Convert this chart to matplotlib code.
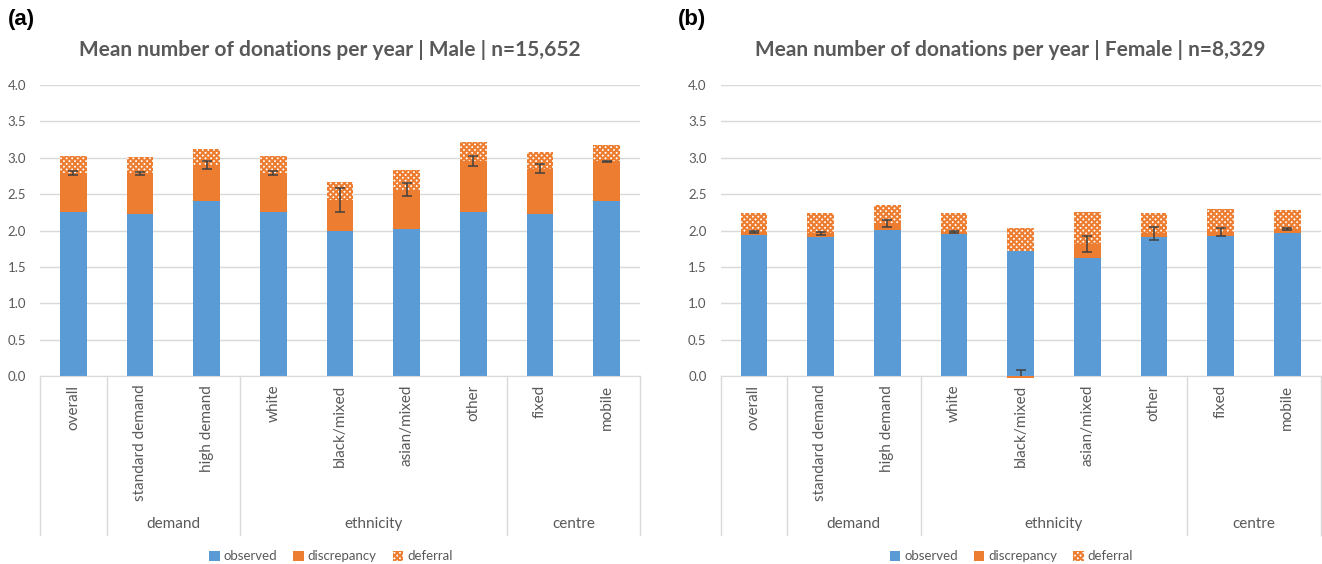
import numpy as np
import matplotlib.pyplot as plt
from matplotlib.patches import Patch

plt.rcParams['font.family'] = ['Lato', 'DejaVu Sans']
plt.rcParams['hatch.linewidth'] = 1.5

categories = ["overall", "standard demand", "high demand", "white", "black/mixed",
              "asian/mixed", "other", "fixed", "mobile"]
group_labels = ["", "demand", "ethnicity", "centre"]
group_sizes = [1, 2, 4, 2]

male_observed = [2.25, 2.23, 2.40, 2.25, 2.00, 2.02, 2.26, 2.23, 2.40]
male_discrepancy = [0.54, 0.555, 0.50, 0.54, 0.42, 0.54, 0.70, 0.62, 0.55]
male_deferral = [0.24, 0.225, 0.22, 0.23, 0.25, 0.27, 0.25, 0.23, 0.23]
male_err = [0.03, 0.02, 0.05, 0.03, 0.17, 0.09, 0.07, 0.06, 0.01]

female_observed = [1.94, 1.915, 2.01, 1.95, 1.72, 1.62, 1.915, 1.925, 1.97]
female_discrepancy = [0.04, 0.045, 0.09, 0.03, -0.03, 0.20, 0.045, 0.055, 0.05]
female_deferral = [0.265, 0.28, 0.25, 0.265, 0.32, 0.44, 0.285, 0.32, 0.26]
female_err = [0.01, 0.02, 0.05, 0.02, 0.11, 0.11, 0.09, 0.06, 0.01]

BLUE = "#5B9BD5"
ORANGE = "#ED7D31"
GREY = "#595959"
W, H = 1322, 564


def draw_panel(ax, observed, discrepancy, deferral, err):
    x = np.arange(len(categories))
    obs = np.array(observed)
    disc = np.array(discrepancy)
    defr = np.array(deferral)
    ax.bar(x, obs, width=0.4, color=BLUE, zorder=2)
    # negative discrepancy is stacked downward from zero, as Excel does
    disc_bottom = np.where(disc >= 0, obs, 0)
    ax.bar(x, disc, width=0.4, bottom=disc_bottom, color=ORANGE, zorder=3, clip_on=False)
    ax.bar(x, defr, width=0.4, bottom=obs + np.maximum(disc, 0), facecolor="white",
           edgecolor=ORANGE, hatch="xxxxxx", linewidth=0, zorder=2)
    err_y = np.where(disc >= 0, obs + disc, disc)
    ax.errorbar(x, err_y, yerr=err, fmt="none", ecolor="#404040", elinewidth=1.1,
                capsize=3.5, capthick=1.1, zorder=4)

    ax.set_xlim(-0.5, len(categories) - 0.5)
    ax.set_ylim(0, 4)
    ax.set_yticks(np.arange(0, 4.01, 0.5))
    ax.set_yticklabels([f"{v:.1f}" for v in np.arange(0, 4.01, 0.5)])
    ax.tick_params(axis="y", length=0, labelsize=9.5, labelcolor=GREY, pad=10)
    ax.set_xticks([])
    ax.grid(axis="y", color="#D9D9D9", linewidth=1, zorder=0)
    for s in ["top", "right", "left"]:
        ax.spines[s].set_visible(False)
    ax.spines["bottom"].set_color("#D9D9D9")

    tr = ax.get_xaxis_transform()
    for i, cat in enumerate(categories):
        ax.text(i, -0.03, cat, rotation=90, ha="center", va="top", transform=tr,
                fontsize=11, color=GREY)
    edges = np.concatenate([[0], np.cumsum(group_sizes)]) - 0.5
    for e in edges:
        ax.plot([e, e], [0, -0.546], color="#D9D9D9", lw=1, transform=tr, clip_on=False)
    for lab, a, b in zip(group_labels, edges[:-1], edges[1:]):
        ax.text((a + b) / 2, -0.508, lab, ha="center", va="center", transform=tr,
                fontsize=11, color=GREY)

    handles = [Patch(facecolor=BLUE, label="observed"),
               Patch(facecolor=ORANGE, label="discrepancy"),
               Patch(facecolor="white", edgecolor=ORANGE, hatch="xxxxxx", linewidth=0,
                     label="deferral")]
    ax.legend(handles=handles, loc="center", bbox_to_anchor=(0.485, -0.62), ncol=3,
              frameon=False, fontsize=9.5, handlelength=0.8, handleheight=0.8,
              handletextpad=0.3, columnspacing=1.2, labelcolor=GREY)


fig = plt.figure(figsize=(W / 100, H / 100), dpi=100)
ax1 = fig.add_axes([40 / W, 188 / H, 600 / W, 291 / H])
ax2 = fig.add_axes([720.5 / W, 188 / H, 600 / W, 291 / H])

draw_panel(ax1, male_observed, male_discrepancy, male_deferral, male_err)
draw_panel(ax2, female_observed, female_discrepancy, female_deferral, female_err)

fig.text(330 / W, 1 - 50 / H, "Mean number of donations per year | Male | n=15,652",
         ha="center", va="center", fontsize=15, fontweight="bold", color=GREY)
fig.text(1010 / W, 1 - 50 / H, "Mean number of donations per year | Female | n=8,329",
         ha="center", va="center", fontsize=15, fontweight="bold", color=GREY)
fig.text(8 / W, 1 - 20 / H, "(a)", ha="left", va="center", fontsize=16,
         fontweight="bold", family="Liberation Sans")
fig.text(678 / W, 1 - 20 / H, "(b)", ha="left", va="center", fontsize=16,
         fontweight="bold", family="Liberation Sans")

fig.savefig("out.png", dpi=100)
